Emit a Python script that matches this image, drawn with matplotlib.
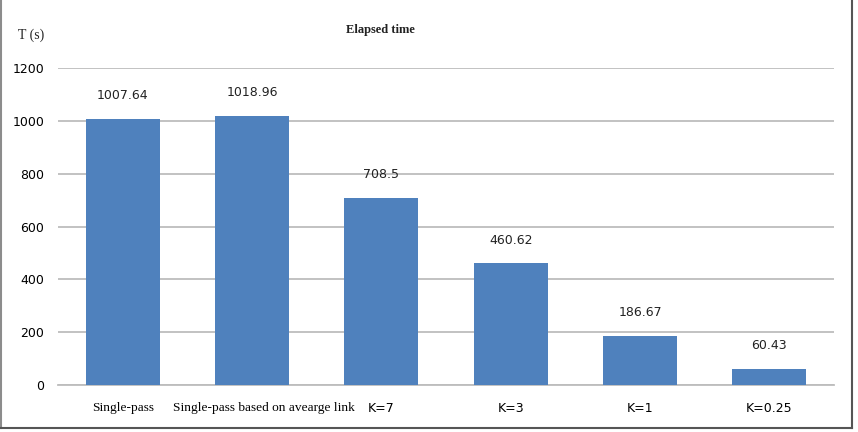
import matplotlib
matplotlib.use("Agg")
import matplotlib.pyplot as plt
from matplotlib.lines import Line2D
import matplotlib.transforms as mtransforms

categories = ["Single-pass", "Single-pass based on avearge link", "K=7", "K=3", "K=1", "K=0.25"]
values = [1007.64, 1018.96, 708.5, 460.62, 186.67, 60.43]
value_labels = ["1007.64", "1018.96", "708.5", "460.62", "186.67", "60.43"]
yticks = [0, 200, 400, 600, 800, 1000, 1200]

fig = plt.figure(figsize=(8.58, 4.32), dpi=100)
ax = fig.add_axes([58/858, 1-385/432, 776/858, 317/432])

x = list(range(len(categories)))
ax.bar(x, values, width=0.57, color="#4f81bd", zorder=3)
for xi, v, lab in zip(x, values, value_labels):
    ax.annotate(lab, (xi, v), xytext=(0, 12), textcoords="offset points",
                ha="center", va="bottom", fontsize=9, family="DejaVu Sans", color="#222222")

ax.set_xlim(-0.5, len(categories) - 0.5)
ax.set_ylim(0, 1200)
ax.set_yticks(yticks)
ax.set_yticklabels([str(t) for t in yticks], fontsize=9, family="DejaVu Sans")
ax.yaxis.grid(True, color="#bdbdbd", linewidth=1.3, zorder=0)
ax.set_axisbelow(True)
ax.tick_params(axis="both", length=0)
ax.tick_params(axis="y", pad=10)
ax.tick_params(axis="x", pad=12)
for s in ["top", "right", "left"]:
    ax.spines[s].set_visible(False)
ax.spines["bottom"].set_color("#bdbdbd")
ax.spines["bottom"].set_linewidth(1.3)

ax.set_xticks(x)
ax.set_xticklabels(categories)
label_shift = {1: 12}
for i, t in enumerate(ax.get_xticklabels()):
    if i < 2:
        t.set_family("Liberation Serif")
        t.set_fontsize(9.6)
    else:
        t.set_family("DejaVu Sans")
        t.set_fontsize(9)
    dx = label_shift.get(i, 0)
    if dx:
        t.set_transform(t.get_transform() + mtransforms.ScaledTranslation(dx/100, 0, fig.dpi_scale_trans))

fig.text(380/858, 1-30/432, "Elapsed time", ha="center", va="center",
         family="Liberation Serif", fontsize=9, fontweight="bold", color="#222222")
fig.text(31/858, 1-35/432, "T (s)", ha="center", va="center",
         family="Liberation Serif", fontsize=10, color="#222222")

# border
fig.add_artist(Line2D([1/858, 1/858], [1-428/432, 1], transform=fig.transFigure, color="#8c8c8c", lw=1.5))
fig.add_artist(Line2D([852/858, 852/858], [1-428/432, 1], transform=fig.transFigure, color="#555555", lw=1.5))
fig.add_artist(Line2D([1/858, 852/858], [1-428/432, 1-428/432], transform=fig.transFigure, color="#555555", lw=1.5))

fig.savefig("out.png", dpi=100)
